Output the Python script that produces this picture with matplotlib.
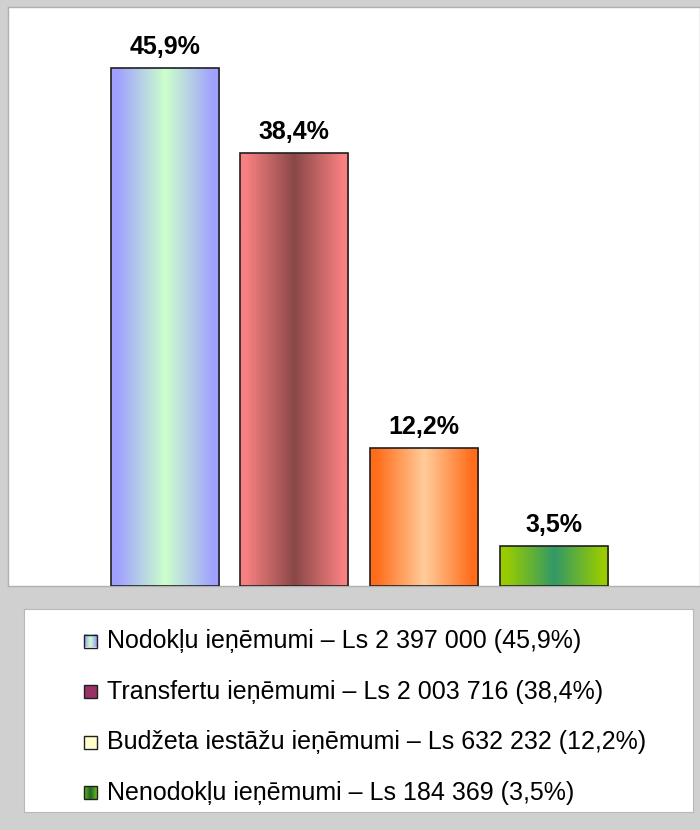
import matplotlib
matplotlib.use("Agg")
import matplotlib.pyplot as plt
import numpy as np
from matplotlib import font_manager
from matplotlib.colors import LinearSegmentedColormap
from matplotlib.patches import Rectangle

# data
categories = ["Nodokļu ieņēmumi", "Transfertu ieņēmumi",
              "Budžeta iestāžu ieņēmumi", "Nenodokļu ieņēmumi"]
amounts = ["2 397 000", "2 003 716", "632 232", "184 369"]
shares = [45.9, 38.4, 12.2, 3.5]

# gradient (edge colour, centre colour) for each bar
bar_gradients = [("#a0a0ff", "#ccffcc"), ("#f88080", "#8b4848"),
                 ("#ff6c1a", "#ffcc99"), ("#99cc00", "#339966")]
# legend swatches (Excel kept different colours there)
legend_gradients = [("#9999ff", "#ccffcc"), ("#993366", "#993366"),
                    ("#ffffcc", "#ffffcc"), ("#66bb22", "#226622")]

installed = {f.name for f in font_manager.fontManager.ttflist}
font = "Liberation Sans Narrow" if "Liberation Sans Narrow" in installed else "Liberation Sans"
plt.rcParams["font.family"] = [font, "DejaVu Sans"]

W, H = 700, 830
fig = plt.figure(figsize=(W / 100, H / 100), dpi=100, facecolor="#d0d0d0")

# plot area
ax = fig.add_axes([8 / W, 1 - 586 / H, 692 / W, 579 / H])
ax.set_facecolor("white")
ax.set_xticks([])
ax.set_yticks([])
for side in ax.spines.values():
    side.set_color("#b0b0b0")
    side.set_linewidth(1)

x = np.arange(len(shares))
bars = ax.bar(x, shares, width=0.834, facecolor="none",
              edgecolor="#202020", linewidth=1.2, zorder=3)

ramp = np.clip(np.abs(np.linspace(-1, 1, 200)) * 1.12, 0, 1)[None, :]
for bar, (edge, centre), share in zip(bars, bar_gradients, shares):
    cmap = LinearSegmentedColormap.from_list("g", [centre, edge])
    x0, w = bar.get_x(), bar.get_width()
    img = ax.imshow(ramp, cmap=cmap, aspect="auto", zorder=2,
                    extent=(x0, x0 + w, 0, bar.get_height()),
                    interpolation="bilinear")
    img.set_clip_path(bar)
    ax.text(x0 + w / 2, share + 0.8, f"{share:.1f}%".replace(".", ","),
            ha="center", va="bottom", fontsize=18, fontweight="bold")

ax.set_xlim(-1.21, 4.13)
ax.set_ylim(0, 51.3)

# legend box
lg = fig.add_axes([24 / W, 1 - 812 / H, 669 / W, 203 / H])
lg.set_facecolor("white")
lg.set_xticks([])
lg.set_yticks([])
for side in lg.spines.values():
    side.set_color("#b8b8b8")

swatch_ramp = np.abs(np.linspace(-1, 1, 50))[None, :]
for i, (name, amount, share) in enumerate(zip(categories, amounts, shares)):
    yc = 32 + i * 50.5
    edge, centre = legend_gradients[i]
    cmap = LinearSegmentedColormap.from_list("s", [centre, edge])
    lg.imshow(swatch_ramp, cmap=cmap, aspect="auto",
              extent=(60, 73, yc + 6.5, yc - 6.5), interpolation="bilinear")
    lg.add_patch(Rectangle((60, yc - 6.5), 13, 13, fill=False,
                           edgecolor="#202020", linewidth=1))
    label = f"{name} – Ls {amount} ({share:.1f}%)".replace(".", ",")
    lg.text(83, yc, label, ha="left", va="center", fontsize=18)

lg.set_xlim(0, 669)
lg.set_ylim(203, 0)

fig.savefig("out.png", dpi=100, facecolor=fig.get_facecolor())
